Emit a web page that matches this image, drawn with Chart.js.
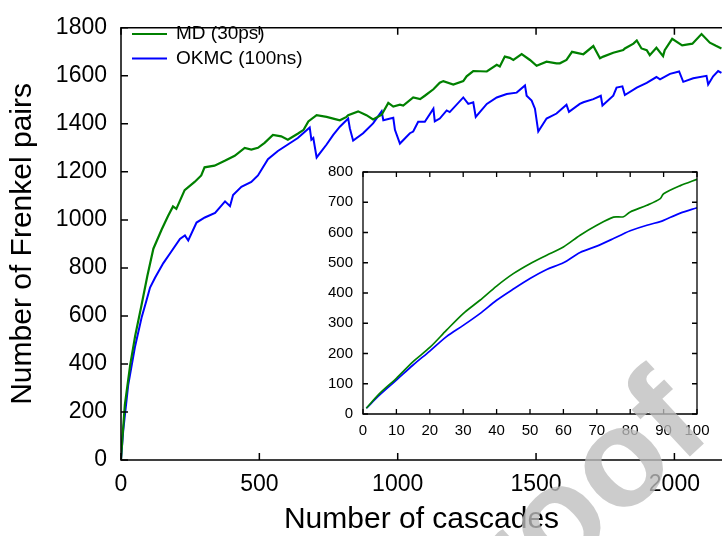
<!DOCTYPE html>
<html><head><meta charset="utf-8">
<script src="https://cdn.jsdelivr.net/npm/chart.js@4.4.0/dist/chart.umd.min.js"></script>
<style>
html,body{margin:0;padding:0;background:#fff;overflow:hidden}
#wrap{position:relative;width:722px;height:536px;overflow:hidden}
#main{position:absolute;left:0;top:0}
#inset{position:absolute;left:300px;top:150px}
#mark{position:absolute;left:0;top:0;pointer-events:none}
</style></head><body>
<div id="wrap">
<canvas id="main" width="722" height="536"></canvas>
<canvas id="inset" width="420" height="300"></canvas>
<canvas id="mark" width="722" height="536"></canvas>
</div>
<script>
// ---- data ----
const seriesLabels = ['MD (30ps)', 'OKMC (100ns)'];
const mdCascades = [0,5,14,33,51,75,95,117,147,170,188,200,230,266,290,302,338,375,411,447,471,495,519,549,579,603,640,660,677,707,743,767,791,815,821,857,887,911,942,966,984,1008,1020,1056,1081,1098,1129,1152,1165,1201,1237,1249,1273,1322,1358,1369,1387,1405,1418,1448,1478,1502,1538,1574,1586,1610,1630,1671,1707,1731,1743,1779,1815,1821,1852,1864,1881,1900,1911,1935,1959,1965,1992,2028,2065,2098,2128,2150,2170];
const mdPairs = [0,90,231,394,516,650,765,880,960,1016,1056,1046,1124,1158,1185,1219,1226,1246,1267,1300,1293,1300,1321,1354,1348,1334,1360,1375,1410,1436,1429,1422,1415,1429,1436,1452,1436,1418,1438,1487,1472,1480,1476,1510,1503,1517,1544,1571,1578,1564,1578,1598,1620,1618,1646,1639,1680,1675,1666,1690,1666,1642,1659,1652,1652,1666,1700,1690,1724,1673,1680,1696,1707,1714,1734,1747,1714,1707,1686,1717,1682,1707,1754,1727,1734,1774,1738,1725,1714];
const okmcCascades = [0,8,26,51,75,91,105,123,153,177,213,231,243,273,303,340,376,394,405,435,471,495,531,567,603,639,682,688,695,707,743,767,791,821,827,839,875,911,942,948,984,990,1008,1044,1056,1074,1098,1129,1134,1152,1177,1188,1237,1255,1273,1282,1322,1358,1394,1430,1460,1466,1484,1496,1508,1538,1574,1610,1619,1658,1671,1707,1734,1740,1779,1791,1812,1821,1864,1900,1935,1948,1984,2017,2032,2068,2116,2122,2140,2158,2170];
const okmcPairs = [0,122,312,474,596,660,718,759,820,860,921,935,914,989,1010,1029,1077,1057,1104,1138,1158,1185,1253,1287,1314,1341,1385,1334,1341,1260,1314,1354,1388,1422,1382,1330,1361,1402,1452,1415,1425,1375,1318,1361,1368,1409,1409,1463,1410,1422,1456,1449,1510,1483,1490,1429,1483,1510,1524,1530,1560,1517,1497,1463,1368,1422,1443,1480,1450,1483,1490,1503,1517,1476,1517,1551,1556,1520,1551,1571,1595,1585,1608,1618,1575,1590,1600,1564,1598,1620,1612];
const insetCascades = [1,5,10,15,20,25,30,35,40,45,50,55,60,65,70,75,78,80,85,89,90,95,100];
const insetMdPairs = [19,68,118,173,220,277,332,376,423,464,497,525,552,591,624,651,652,668,690,712,728,755,776];
const insetOkmcPairs = [19,63,112,162,208,256,293,332,376,413,448,478,500,534,555,580,596,606,624,636,640,664,682];
const mainXTicks = [0, 500, 1000, 1500, 2000];
const mainYTicks = [0, 200, 400, 600, 800, 1000, 1200, 1400, 1600, 1800];
const insetXTicks = [0, 10, 20, 30, 40, 50, 60, 70, 80, 90, 100];
const insetYTicks = [0, 100, 200, 300, 400, 500, 600, 700, 800];
const watermarkText = 'Proof';

const FONT = "'Liberation Sans', Arial, Helvetica, sans-serif";
const GREEN = '#008000', BLUE = '#0000ff';
const pts = (xs, ys) => xs.map((v, i) => ({x: v, y: ys[i]}));
const setTicks = list => (s => { s.ticks = list.map(v => ({value: v})); });
const plain = v => String(v);

const frameTicks = {
  id: 'frameTicks',
  afterDraw(chart, args, o) {
    const {ctx, chartArea: a, scales: {x, y}} = chart;
    ctx.save();
    ctx.strokeStyle = '#000';
    ctx.lineWidth = o.lw;
    ctx.beginPath();
    x.ticks.forEach(t => {
      const px = x.getPixelForValue(t.value);
      ctx.moveTo(px, a.bottom); ctx.lineTo(px, a.bottom - o.len);
      ctx.moveTo(px, a.top); ctx.lineTo(px, a.top + o.len);
    });
    y.ticks.forEach(t => {
      const py = y.getPixelForValue(t.value);
      ctx.moveTo(a.left, py); ctx.lineTo(a.left + o.len, py);
      if (o.box) { ctx.moveTo(a.right, py); ctx.lineTo(a.right - o.len, py); }
    });
    ctx.stroke();
    ctx.beginPath();
    if (o.box) {
      ctx.rect(a.left, a.top, a.right - a.left, a.bottom - a.top);
    } else {
      ctx.moveTo(chart.width, a.top); ctx.lineTo(a.left, a.top);
      ctx.lineTo(a.left, a.bottom); ctx.lineTo(chart.width, a.bottom);
    }
    ctx.stroke();
    ctx.restore();
  }
};

const innerLegend = {
  id: 'innerLegend',
  afterDraw(chart, args, o) {
    if (!o.show) return;
    const {ctx} = chart;
    ctx.save();
    ctx.font = '19px ' + FONT;
    ctx.textBaseline = 'middle';
    ctx.textAlign = 'left';
    chart.data.datasets.forEach((ds, i) => {
      const yy = o.y + i * o.gap;
      ctx.strokeStyle = ds.borderColor;
      ctx.lineWidth = 2;
      ctx.beginPath(); ctx.moveTo(o.x, yy); ctx.lineTo(o.x + o.len, yy); ctx.stroke();
      ctx.fillStyle = '#000';
      ctx.fillText(ds.label, o.x + o.len + 9, yy);
    });
    ctx.restore();
  }
};

Chart.defaults.font.family = FONT;
Chart.defaults.color = '#000';

new Chart(document.getElementById('main'), {
  type: 'line',
  data: {datasets: [
    {label: seriesLabels[0], data: pts(mdCascades, mdPairs), borderColor: GREEN, borderWidth: 2.2, pointRadius: 0, tension: 0},
    {label: seriesLabels[1], data: pts(okmcCascades, okmcPairs), borderColor: BLUE, borderWidth: 2, pointRadius: 0, tension: 0}
  ]},
  options: {
    responsive: false, animation: false, devicePixelRatio: 1,
    layout: {padding: {top: 17, right: 0, left: 0, bottom: 0}},
    plugins: {
      legend: {display: false}, tooltip: {enabled: false},
      frameTicks: {len: 7, lw: 1.5, box: false},
      innerLegend: {show: true, x: 132, y: 34, gap: 24.5, len: 35}
    },
    scales: {
      x: {
        type: 'linear', min: 0, max: 2172,
        afterBuildTicks: setTicks(mainXTicks),
        ticks: {callback: plain, font: {size: 23}, padding: 11, color: '#000', maxRotation: 0, autoSkip: false},
        grid: {display: false, drawTicks: false}, border: {display: false},
        title: {display: true, text: 'Number of cascades', font: {size: 30, lineHeight: 1.1}, padding: {top: 0, bottom: 0}, color: '#000'},
        afterFit(s) { s.height = 76; }
      },
      y: {
        type: 'linear', min: 0, max: 1800,
        afterBuildTicks: setTicks(mainYTicks),
        ticks: {callback: plain, font: {size: 23}, padding: 14, color: '#000', autoSkip: false},
        grid: {display: false, drawTicks: false}, border: {display: false},
        title: {display: true, text: 'Number of Frenkel pairs', font: {size: 30, lineHeight: 1.2}, padding: {top: 5, bottom: 0}, color: '#000'},
        afterFit(s) { s.width = 121; }
      }
    }
  },
  plugins: [frameTicks, innerLegend]
});

new Chart(document.getElementById('inset'), {
  type: 'line',
  data: {datasets: [
    {label: seriesLabels[0], data: pts(insetCascades, insetMdPairs), borderColor: GREEN, borderWidth: 1.7, pointRadius: 0, tension: 0.3},
    {label: seriesLabels[1], data: pts(insetCascades, insetOkmcPairs), borderColor: BLUE, borderWidth: 1.7, pointRadius: 0, tension: 0.3}
  ]},
  options: {
    responsive: false, animation: false, devicePixelRatio: 1,
    layout: {padding: {top: 22, right: 23, left: 0, bottom: 0}},
    plugins: {
      legend: {display: false}, tooltip: {enabled: false},
      frameTicks: {len: 5, lw: 1.3, box: true},
      innerLegend: {show: false}
    },
    scales: {
      x: {
        type: 'linear', min: 0, max: 100,
        afterBuildTicks: setTicks(insetXTicks),
        ticks: {callback: plain, font: {size: 15}, padding: 8, color: '#000', maxRotation: 0, autoSkip: false},
        grid: {display: false, drawTicks: false}, border: {display: false},
        afterFit(s) { s.height = 36; }
      },
      y: {
        type: 'linear', min: 0, max: 800,
        afterBuildTicks: setTicks(insetYTicks),
        ticks: {callback: plain, font: {size: 15}, padding: 10, color: '#000', autoSkip: false},
        grid: {display: false, drawTicks: false}, border: {display: false},
        afterFit(s) { s.width = 63; }
      }
    }
  },
  plugins: [frameTicks, innerLegend]
});

// watermark on top of everything
(function () {
  const c = document.getElementById('mark').getContext('2d');
  c.save();
  c.translate(447, 683);
  c.rotate(-43 * Math.PI / 180);
  c.font = 'bold 140px ' + FONT;
  c.fillStyle = 'rgba(190,190,190,0.78)';
  c.textBaseline = 'alphabetic';
  c.fillText(watermarkText, 0, 0);
  c.restore();
})();
</script>
</body></html>
